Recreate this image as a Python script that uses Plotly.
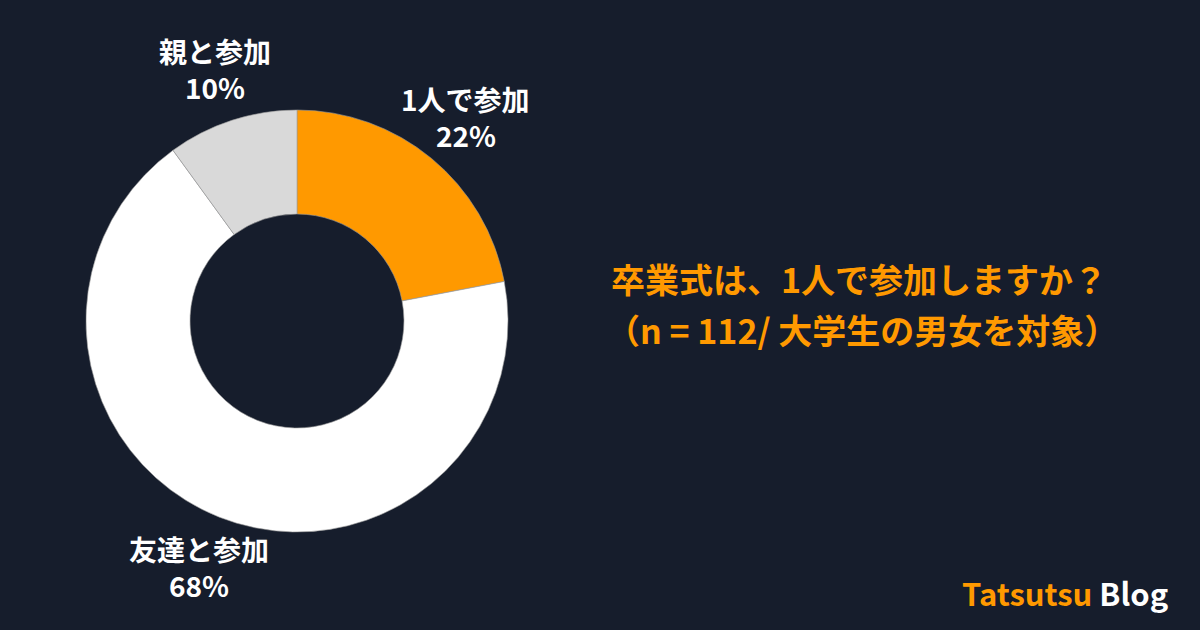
import math
import plotly.graph_objects as go

labels = ["1人で参加", "友達と参加", "親と参加"]
values = [22, 68, 10]
colors = ["#ff9900", "#ffffff", "#d9d9d9"]
title_line1 = "卒業式は、1人で参加しますか？"
title_line2 = "（n = 112/ 大学生の男女を対象）"

BG = "#161d2c"
FONT = "Noto Sans CJK JP"
W, H = 1200, 630
cx, cy, R = 297, 321, 211

fig = go.Figure(go.Pie(
    labels=labels, values=values, sort=False, direction="clockwise", rotation=0,
    hole=0.507, textinfo="none", hoverinfo="skip",
    marker=dict(colors=colors, line=dict(color="#9a9a9a", width=0.6)),
    domain=dict(x=[(cx - R) / W, (cx + R) / W], y=[1 - (cy + R) / H, 1 - (cy - R) / H]),
    showlegend=False,
))

# labels placed along each slice's mid-angle
total = sum(values)
cum = 0
label_r = 265
for lab, v in zip(labels, values):
    mid = (cum + v / 2) / total * 2 * math.pi
    cum += v
    px = cx + label_r * math.sin(mid)
    py = cy - label_r * math.cos(mid)
    for txt, dy in ((lab, -18), (f"{v}%", 18)):
        fig.add_annotation(x=px / W, y=1 - (py + dy) / H, xref="paper", yref="paper",
                           text=f"<b>{txt}</b>", showarrow=False, borderpad=0,
                           font=dict(family=FONT, size=28, color="#ffffff"),
                           xanchor="center", yanchor="middle", align="center")

fig.add_annotation(x=859 / W, y=1 - 278 / H, xref="paper", yref="paper",
                   text=f"<b>{title_line1}</b>", showarrow=False,
                   font=dict(family=FONT, size=34, color="#ff9900"),
                   xanchor="center", yanchor="middle")
fig.add_annotation(x=862 / W, y=1 - 329 / H, xref="paper", yref="paper",
                   text=f"<b>{title_line2}</b>", showarrow=False,
                   font=dict(family=FONT, size=34, color="#ff9900"),
                   xanchor="center", yanchor="middle")
fig.add_annotation(x=1065 / W, y=1 - 592 / H, xref="paper", yref="paper",
                   text="<b><span style='color:#ff9900'>Tatsutsu</span> Blog</b>",
                   showarrow=False,
                   font=dict(family=FONT, size=31, color="#ffffff"),
                   xanchor="center", yanchor="middle")

fig.update_layout(width=W, height=H, margin=dict(l=0, r=0, t=0, b=0),
                  paper_bgcolor=BG, plot_bgcolor=BG)
fig.write_html("out.html", config={"displayModeBar": False},
               post_script=f"document.body.style.margin='0';document.body.style.background='{BG}';")
